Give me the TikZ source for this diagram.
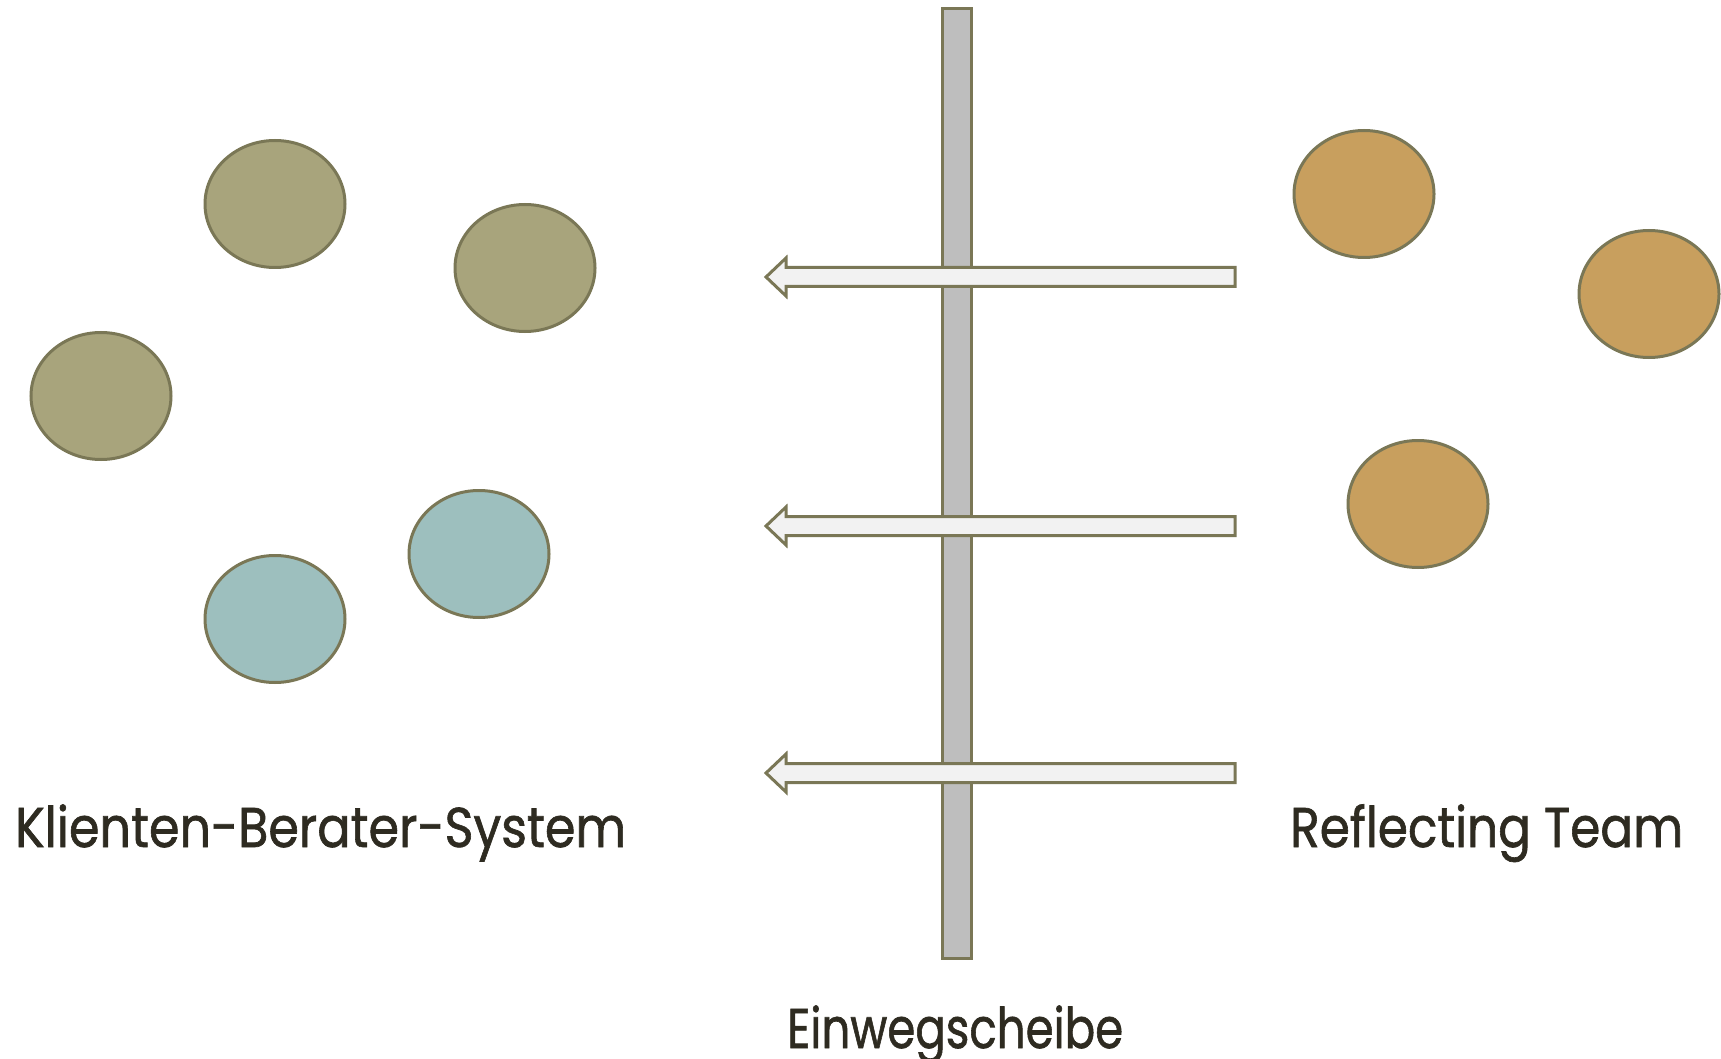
\documentclass[tikz,border=0pt]{standalone}
\usepackage{fontspec}
\setmainfont[FakeBold=1.2]{Poppins}
\usetikzlibrary{shapes.geometric}
\definecolor{olivefill}{HTML}{A8A47C}
\definecolor{edgecol}{HTML}{7A7756}
\definecolor{tealfill}{HTML}{9DBFBE}
\definecolor{orangefill}{HTML}{C89F5E}
\definecolor{barfill}{HTML}{BEBEBE}
\definecolor{arrowfill}{HTML}{F2F2F2}
\definecolor{textcol}{HTML}{2E2B21}
\tikzset{
  person/.style={ellipse, draw=edgecol, line width=3pt, minimum width=140pt, minimum height=127pt, inner sep=0pt},
  olivep/.style={person, fill=olivefill},
  tealp/.style={person, fill=tealfill},
  orangep/.style={person, fill=orangefill},
  lbl/.style={text=textcol, font=\fontsize{56}{60}\selectfont, inner sep=0pt, anchor=base west},
  outl/.style={draw=edgecol, line width=3pt, line join=miter},
}
\begin{document}
\begin{tikzpicture}[x=1pt,y=-1pt]
\useasboundingbox (0,0) rectangle (1721,1059);
% persons
\node[olivep] (k1) at (275,204) {};
\node[olivep] (k2) at (525,268) {};
\node[olivep] (k3) at (101,396) {};
\node[tealp] (k4) at (479,554) {};
\node[tealp] (k5) at (275,619) {};
\node[orangep] (r1) at (1364,194) {};
\node[orangep] (r2) at (1649,294) {};
\node[orangep] (r3) at (1418,504) {};
% one-way mirror
\draw[outl, fill=barfill] (942,9) rectangle (971,958);
% arrows
\foreach \yy in {277,526,773}{
  \draw[outl, fill=arrowfill] (766,\yy) -- (786,\yy-19) -- (786,\yy-9.5) -- (1235,\yy-9.5)
    -- (1235,\yy+9.5) -- (786,\yy+9.5) -- (786,\yy+19) -- cycle;
}
% labels
\node[lbl] (lk) at (15,847) {\resizebox{611pt}{\height}{Klienten-Berater-System}};
\node[lbl] (lr) at (1290,847) {\resizebox{393pt}{\height}{Reflecting Team}};
\node[lbl] (le) at (787,1048) {\resizebox{336pt}{\height}{Einwegscheibe}};
\end{tikzpicture}
\end{document}
